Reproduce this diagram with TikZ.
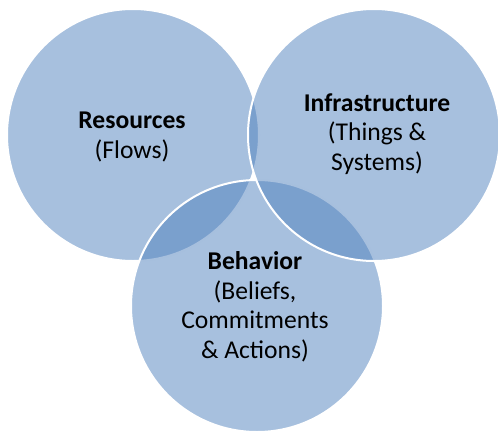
\documentclass[tikz,border=0pt]{standalone}
\usepackage{fontspec}
\setmainfont{Carlito}
\definecolor{venn}{HTML}{4F81BD}
\begin{document}
\begin{tikzpicture}[x=1pt,y=-1pt,
  venncircle/.style={circle, minimum size=252pt, inner sep=0pt, fill=venn, fill opacity=0.5, draw=white, line width=2pt},
  label/.style={align=center, text=black, font=\fontsize{25.6}{29.5}\selectfont, inner sep=0pt}]
\useasboundingbox (0,0) rectangle (498,434);
\node[venncircle] (res) at (133,135) {};
\node[venncircle] (beh) at (257,306) {};
\node[venncircle] (inf) at (374,135) {};
\node[label] (tres) at (132,137) {\textbf{Resources}\\(Flows)};
\node[label] (tinf) at (377,134) {\textbf{Infrastructure}\\(Things \&\\Systems)};
\node[label] (tbeh) at (255,307) {\textbf{Behavior}\\(Beliefs,\\Commitments\\\& Actions)};
\end{tikzpicture}
\end{document}
